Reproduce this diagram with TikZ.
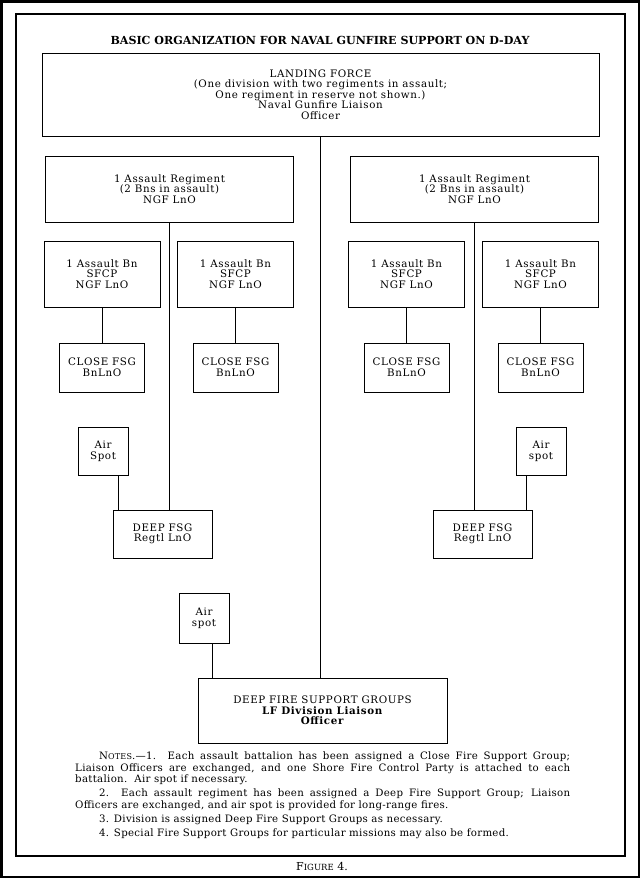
\documentclass[tikz,border=0pt]{standalone}
\usepackage{fontspec}
\setmainfont{DejaVu Serif}
\newfontfamily\boxfont[LetterSpace=6]{DejaVu Serif}
\newfontfamily\notefont[LetterSpace=3]{DejaVu Serif}
\usepackage{tikz}
\tikzset{box/.style={draw, line width=0.9pt, inner sep=0pt, align=center,
   font=\boxfont\fontsize{10.3}{10.6}\selectfont},
 regbox/.style={box, minimum width=248, minimum height=66},
 bnbox/.style={box, minimum width=116, minimum height=66},
 closebox/.style={box, minimum width=85, minimum height=49},
 airbox/.style={box, minimum width=50, minimum height=48},
 deepbox/.style={box, minimum width=99, minimum height=48},
 link/.style={draw, line width=0.9pt},
 frame/.style={draw, line width=1.8pt},
 titletext/.style={font=\bfseries\fontsize{11.1}{12}\selectfont},
 notes/.style={text width=495pt, align=justify, inner sep=0pt,
   font=\notefont\fontsize{10.2}{11.5}\selectfont},
 }

\begin{document}
\begin{tikzpicture}[x=1pt, y=-1pt]
        \useasboundingbox (0,0) rectangle (640,878);
        \fill[black] (0,0) rectangle (640,878);
        \fill[white] (2.5,2.5) rectangle (637.5,875.5);
        \draw[frame] (16,14) rectangle (625,856);

        \node[titletext] (title) at (320,40) {BASIC ORGANIZATION FOR NAVAL GUNFIRE SUPPORT ON D-DAY};
        \node[box, minimum width=557, minimum height=83] (land) at (320.5,94.5)
            {LANDING FORCE\\(One division with two regiments in assault;\\One regiment in reserve not shown.)\\Naval Gunfire Liaison\\Officer};

        \node[regbox] (reg1) at (169.5,189) {1 Assault Regiment\\(2 Bns in assault)\\NGF LnO};
        \node[regbox] (reg2) at (474.5,189) {1 Assault Regiment\\(2 Bns in assault)\\NGF LnO};

        \foreach \x[count=\i] in {102, 235.5, 406.5, 540.5} {
            \node[bnbox] (bn\i) at (\x,274) {1 Assault Bn\\SFCP\\NGF LnO};
            \node[closebox] (close\i) at (\x,367.5) {CLOSE FSG\\BnLnO};
            \draw[link] (bn\i) -- (close\i);
        }

        \node[airbox] (air1) at (103,451) {Air\\Spot};
        \node[airbox] (air2) at (541,451) {Air\\spot};
        \node[deepbox] (deep1) at (162.5,534) {DEEP FSG\\Regtl LnO};
        \node[deepbox] (deep2) at (482.5,534) {DEEP FSG\\Regtl LnO};

        \node[airbox, minimum height=50] (air3) at (204,618) {Air\\spot};
        \node[box, minimum width=249, minimum height=65] (dfsg) at (322.5,710.5)
            {DEEP FIRE SUPPORT GROUPS\\\textbf{LF Division Liaison}\\\textbf{Officer}};

        \draw[link] (land) -- (land |- dfsg.north);
        \draw[link] (reg1) -- (reg1 |- deep1.north);
        \draw[link] (reg2) -- (reg2 |- deep2.north);
        \draw[link] ([xshift=6]deep1.north west) -- ([xshift=6]deep1.north west |- air1.south);
        \draw[link] ([xshift=-6]deep2.north east) -- ([xshift=-6]deep2.north east |- air2.south);
        \draw[link] ([xshift=15]dfsg.north west) -- ([xshift=15]dfsg.north west |- air3.south);

        \node[notes, anchor=north west] (notes) at (75,752) {%
            \hspace*{24pt}N{\fontsize{8}{11.5}\selectfont OTES}.—1. Each assault battalion has been assigned a Close Fire Support Group;\linebreak
            Liaison Officers are exchanged, and one Shore Fire Control Party is attached to each\linebreak
            battalion.\ \ Air spot if necessary.\par\vspace{2.5pt}
            \hspace*{24pt}2. Each assault regiment has been assigned a Deep Fire Support Group; Liaison\linebreak
            Officers are exchanged, and air spot is provided for long-range fires.\par\vspace{2.5pt}
            \hspace*{24pt}3. Division is assigned Deep Fire Support Groups as necessary.\par\vspace{2.5pt}
            \hspace*{24pt}4. Special Fire Support Groups for particular missions may also be formed.};

        \node[font=\fontsize{11}{12}\selectfont] (figlabel) at (322,866) {F{\fontsize{8.5}{12}\selectfont IGURE} 4.};
    \end{tikzpicture}
\end{document}
